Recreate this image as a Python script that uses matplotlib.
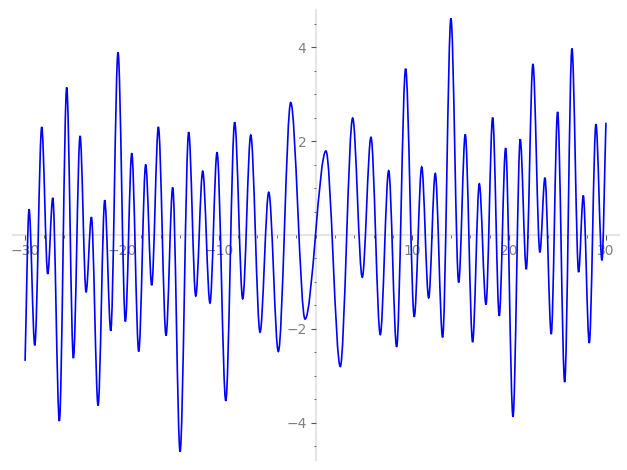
import numpy as np
import matplotlib
matplotlib.use('Agg')
import matplotlib.pyplot as plt
from matplotlib.path import Path
from matplotlib.patches import PathPatch

# Turning points of the curve (x, y)
x_pts = [-30.0, -29.59, -29.0, -28.28, -27.66, -27.14, -26.46, -25.7, -25.01,
         -24.32, -23.7, -23.15, -22.46, -21.77, -21.15, -20.4, -19.64, -18.98,
         -18.26, -17.54, -16.92, -16.23, -15.44, -14.75, -13.99, -13.1, -12.37,
         -11.65, -10.9, -10.17, -9.27, -8.35, -7.52, -6.69, -5.73, -4.83,
         -3.84, -2.56, -1.08, 1.08, 2.56, 3.84, 4.83, 5.73, 6.69, 7.56, 8.38,
         9.31, 10.2, 10.97, 11.69, 12.37, 13.13, 13.99, 14.79, 15.47, 16.23,
         16.92, 17.61, 18.3, 18.98, 19.64, 20.4, 21.15, 21.77, 22.46, 23.18,
         23.7, 24.35, 25.01, 25.74, 26.49, 27.18, 27.66, 28.28, 28.97, 29.59,
         30.0]
y_pts = [-2.68, 0.55, -2.35, 2.30, -0.83, 0.79, -3.96, 3.14, -2.62,
         2.11, -1.22, 0.38, -3.63, 0.74, -2.04, 3.89, -1.84, 1.74,
         -2.48, 1.50, -1.07, 2.30, -2.14, 1.01, -4.61, 2.19, -1.30,
         1.36, -1.45, 1.76, -3.53, 2.40, -1.36, 2.13, -2.07, 0.91,
         -2.48, 2.82, -1.79, 1.79, -2.80, 2.49, -0.90, 2.08, -2.12, 1.37, -2.38,
         3.54, -1.74, 1.45, -1.34, 1.31, -2.18, 4.61, -1.01, 2.14, -2.28,
         1.09, -1.48, 2.50, -1.72, 1.85, -3.87, 2.04, -0.73, 3.64, -0.37,
         1.22, -2.11, 2.62, -3.13, 3.97, -0.79, 0.84, -2.30, 2.36, -0.54,
         2.39]

x_ticks = [-30, -20, -10, 10, 20, 30]
y_ticks = [-4, -2, 2, 4]

fig = plt.figure(figsize=(6.27, 4.70), dpi=100)
ax = fig.add_axes([12.5/627, 10/470, 606/627, 450/470])
ax.set_xlim(-31.3, 31.3)
ax.set_ylim(-4.79, 4.79)

# smooth curve: cubic bezier pieces, flat at the turning points
xs = np.array(x_pts)
ys = np.array(y_pts)
slopes = np.zeros(len(xs))
slopes[0] = (ys[1] - ys[0]) / (xs[1] - xs[0])
slopes[-1] = (ys[-1] - ys[-2]) / (xs[-1] - xs[-2])
verts = [(xs[0], ys[0])]
codes = [Path.MOVETO]
for i in range(len(xs) - 1):
    dx = xs[i+1] - xs[i]
    verts += [(xs[i] + dx/3, ys[i] + slopes[i]*dx/3),
              (xs[i+1] - dx/3, ys[i+1] - slopes[i+1]*dx/3),
              (xs[i+1], ys[i+1])]
    codes += [Path.CURVE4] * 3
ax.add_patch(PathPatch(Path(verts, codes), fill=False, edgecolor='blue',
                       lw=1.2, zorder=5))

for s in ['top', 'right']:
    ax.spines[s].set_visible(False)
for s in ['left', 'bottom']:
    ax.spines[s].set_position(('data', 0))
    ax.spines[s].set_color('#e6e6e6')
    ax.spines[s].set_linewidth(1.5)
    ax.spines[s].set_zorder(0.5)

ax.set_xticks(x_ticks)
ax.set_yticks(y_ticks)
ax.set_xticks(np.arange(-30, 31, 2), minor=True)
ax.set_yticks(np.arange(-4.5, 4.6, 0.5), minor=True)
ax.tick_params(which='major', direction='out', length=3.5, width=0.8,
               color='#555555', labelcolor='#808080', labelsize=10, pad=3)
ax.tick_params(which='minor', direction='out', length=1.8, width=0.6, color='#555555')

fig.savefig('out.png')
